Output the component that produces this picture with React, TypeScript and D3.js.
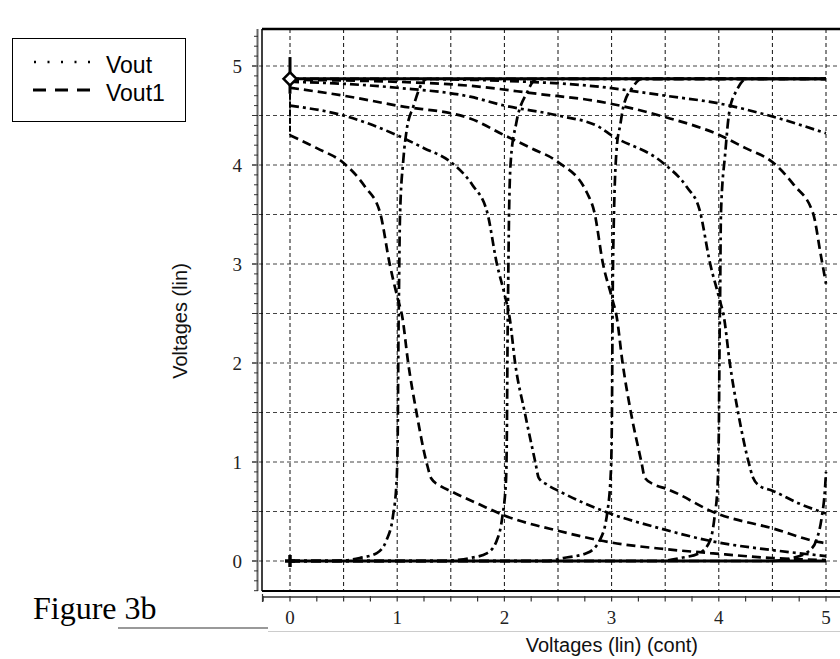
import React from "react";
import * as d3 from "d3";

type Pt = [number, number];

// tick labels / text
const xTickLabels = [0, 1, 2, 3, 4, 5];
const yTickLabels = [0, 1, 2, 3, 4, 5];
const gridValues = [0, 0.5, 1, 1.5, 2, 2.5, 3, 3.5, 4, 4.5, 5];
const legendNames = ["Vout", "Vout1"];
const xTitle = "Voltages (lin) (cont)";
const yTitle = "Voltages (lin)";
const figureTitle = "Figure 3b";

// rising transfer curves (one per sweep step)
const voutCurves: Pt[][] = [
  [[0, 0], [0.4, 0], [0.55, 0.01], [0.65, 0.03], [0.81, 0.08], [0.9, 0.21], [0.96, 0.45], [0.995, 0.82], [1.005, 1.29], [1.012, 2.3], [1.016, 2.67], [1.026, 3.48], [1.057, 4.05], [1.088, 4.35], [1.15, 4.59], [1.24, 4.84], [1.28, 4.87], [5, 4.87]],
  [[0, 0], [1.45, 0], [1.55, 0.01], [1.68, 0.03], [1.84, 0.08], [1.93, 0.21], [1.98, 0.44], [2.015, 0.82], [2.023, 1.29], [2.03, 2.3], [2.034, 2.67], [2.043, 3.48], [2.06, 4.05], [2.11, 4.42], [2.21, 4.73], [2.3, 4.87], [5, 4.87]],
  [[0, 0], [2.4, 0], [2.55, 0.03], [2.77, 0.08], [2.89, 0.21], [2.96, 0.49], [2.995, 0.95], [3.004, 1.6], [3.01, 2.64], [3.02, 3.4], [3.05, 4.2], [3.08, 4.4], [3.11, 4.59], [3.2, 4.79], [3.28, 4.87], [5, 4.87]],
  [[0, 0], [3.45, 0], [3.64, 0.03], [3.82, 0.08], [3.92, 0.21], [3.96, 0.44], [3.99, 0.79], [4.0, 1.3], [4.008, 2.3], [4.012, 2.64], [4.02, 3.51], [4.06, 4.12], [4.1, 4.55], [4.17, 4.76], [4.26, 4.87], [5, 4.87]],
  [[0, 0], [4.5, 0], [4.69, 0.03], [4.85, 0.11], [4.91, 0.21], [4.96, 0.44], [4.99, 0.72], [5.0, 0.9]],
];

// falling curves
const vout1Curves: Pt[][] = [
  [[0, 4.3], [0.25, 4.17], [0.5, 4.02], [0.7, 3.78], [0.84, 3.52], [0.93, 3.0], [1.0, 2.67], [1.05, 2.45], [1.1, 2.02], [1.18, 1.5], [1.275, 0.99], [1.32, 0.83], [1.4, 0.76], [1.51, 0.7], [1.77, 0.57], [2.0, 0.46], [2.52, 0.3], [2.98, 0.19], [3.5, 0.12], [3.92, 0.08], [4.5, 0.03], [5.0, 0.01]],
  [[0, 4.6], [0.5, 4.5], [1.0, 4.3], [1.25, 4.17], [1.5, 4.03], [1.7, 3.8], [1.84, 3.52], [1.93, 3.0], [2.0, 2.7], [2.05, 2.45], [2.1, 2.0], [2.19, 1.5], [2.29, 0.99], [2.32, 0.84], [2.4, 0.77], [2.52, 0.7], [2.96, 0.49], [3.45, 0.33], [3.98, 0.19], [4.5, 0.11], [5.0, 0.05]],
  [[0, 4.78], [0.5, 4.7], [1.0, 4.6], [1.68, 4.47], [2.0, 4.3], [2.25, 4.17], [2.5, 4.03], [2.77, 3.72], [2.84, 3.52], [2.92, 3.0], [3.0, 2.67], [3.05, 2.45], [3.1, 2.02], [3.18, 1.5], [3.28, 0.99], [3.31, 0.84], [3.4, 0.77], [3.51, 0.73], [3.98, 0.48], [4.5, 0.33], [4.94, 0.19], [5.0, 0.18]],
  [[0, 4.84], [0.5, 4.82], [1.0, 4.78], [1.68, 4.69], [2.0, 4.6], [2.5, 4.5], [2.89, 4.38], [3.0, 4.3], [3.48, 4.02], [3.7, 3.78], [3.82, 3.55], [3.92, 3.0], [4.0, 2.67], [4.05, 2.45], [4.1, 2.02], [4.18, 1.5], [4.28, 0.99], [4.32, 0.84], [4.38, 0.76], [4.5, 0.71], [4.75, 0.58], [5.0, 0.48]],
  [[0, 4.86], [1.0, 4.84], [1.68, 4.8], [2.3, 4.72], [2.89, 4.64], [3.48, 4.49], [4.01, 4.3], [4.25, 4.17], [4.5, 4.03], [4.7, 3.8], [4.88, 3.51], [4.95, 3.1], [5.0, 2.8]],
  [[0, 4.87], [1.0, 4.87], [2.0, 4.85], [2.89, 4.79], [3.5, 4.7], [4.01, 4.62], [4.5, 4.49], [5.0, 4.32]],
];

// rails where many curves overlap, and marker positions
const railHigh: Pt[] = [[0, 4.87], [5, 4.87]];
const railLow: Pt[] = [[0, 0], [5, 0]];
const diamondAt: Pt = [0, 4.87];
const crossAt: Pt = [0, 0];
const startSpan = [4.3, 4.72, 5.09];

const W = 840, H = 659;
const left = 262, top = 29, bottom = 591, right = 840;

export default function App() {
  const x = d3.scaleLinear().domain([0, 5]).range([290, 826]);
  const y = d3.scaleLinear().domain([0, 5]).range([561, 66]);
  const line = d3.line<Pt>().x(d => x(d[0])).y(d => y(d[1])).curve(d3.curveMonotoneX);
  const straight = d3.line<Pt>().x(d => x(d[0])).y(d => y(d[1]));

  const yMinor = d3.range(-3, 54).map(i => i / 10).filter(v => y(v) >= top && y(v) <= bottom);
  const xMinor = d3.range(-1, 21).map(i => i / 4).filter(v => x(v) >= left && x(v) <= right);

  const serif = "'Liberation Serif', 'Times New Roman', serif";
  const sans = "'Liberation Sans', Arial, sans-serif";

  const dx = x(diamondAt[0]), dy = y(diamondAt[1]);
  const cx = x(crossAt[0]), cy = y(crossAt[1]);

  return (
    <div style={{ position: "absolute", left: 0, top: 0 }}>
      <svg width={W} height={H} style={{ display: "block", background: "#fff" }}>
        <defs>
          <clipPath id="plotClip">
            <rect x={left} y={top} width={right - left} height={bottom - top} />
          </clipPath>
        </defs>

        {/* grid */}
        <g stroke="#444" strokeWidth={1} strokeDasharray="4,3">
          {gridValues.map(v => (
            <line key={"gy" + v} x1={252} x2={right} y1={y(v)} y2={y(v)} />
          ))}
          {gridValues.map(v => (
            <line key={"gx" + v} x1={x(v)} x2={x(v)} y1={top} y2={bottom} stroke="#111" />
          ))}
        </g>

        {/* frame */}
        <line x1={left} x2={right} y1={top} y2={top} stroke="#000" strokeWidth={2.5} />
        <line x1={left} x2={left} y1={top} y2={bottom} stroke="#000" strokeWidth={1.5} />
        <line x1={left} x2={right} y1={bottom} y2={bottom} stroke="#000" strokeWidth={2} />

        {/* y axis */}
        <line x1={257.5} x2={257.5} y1={top} y2={bottom} stroke="#666" strokeWidth={2} />
        {yMinor.map(v => (
          <line key={"yt" + v} x1={Math.abs(v * 2 - Math.round(v * 2)) < 1e-6 ? 252 : 254} x2={258} y1={y(v)} y2={y(v)} stroke="#333" strokeWidth={1} />
        ))}
        {yTickLabels.map(v => (
          <text key={"yl" + v} x={242} y={y(v) + 6.5} textAnchor="end" fontFamily={serif} fontSize={19} fill="#222">{v}</text>
        ))}

        {/* x axis */}
        <line x1={left} x2={right} y1={597} y2={597} stroke="#333" strokeWidth={1.5} />
        {xMinor.map(v => (
          <line key={"xt" + v} x1={x(v)} x2={x(v)} y1={596} y2={601.5} stroke="#333" strokeWidth={1.2} />
        ))}
        <line x1={left + 0.5} x2={left + 0.5} y1={594} y2={602} stroke="#333" strokeWidth={1.2} />
        {xTickLabels.map(v => (
          <text key={"xl" + v} x={x(v)} y={624} textAnchor="middle" fontFamily={serif} fontSize={19} fill="#222">{v}</text>
        ))}

        {/* curves */}
        <g clipPath="url(#plotClip)" fill="none" stroke="#000">
          <path d={straight(railHigh) || ""} strokeWidth={3} />
          <path d={straight(railLow) || ""} strokeWidth={3} />
          {vout1Curves.map((c, i) => (
            <path key={"f" + i} d={line(c) || ""} strokeWidth={2.7} strokeDasharray={i % 2 === 0 ? "9,5" : "9,4,3,4"} />
          ))}
          {voutCurves.map((c, i) => (
            <path key={"r" + i} d={line(c) || ""} strokeWidth={2.7} strokeDasharray="10,4,3,4" />
          ))}
          {/* start markers */}
          <line x1={dx} x2={dx} y1={y(startSpan[2])} y2={y(startSpan[1])} strokeWidth={3} />
          <line x1={dx} x2={dx} y1={y(startSpan[1])} y2={y(startSpan[0])} strokeWidth={2} strokeDasharray="6,2" />
          <path d={`M${dx - 6.5},${dy}L${dx},${dy - 6.5}L${dx + 6.5},${dy}L${dx},${dy + 6.5}Z`} fill="#fff" strokeWidth={2.5} />
          <line x1={cx} x2={cx} y1={cy - 6} y2={cy + 6} strokeWidth={3.5} />
          <line x1={cx - 5} x2={cx + 5} y1={cy} y2={cy} strokeWidth={3.5} />
        </g>

        {/* axis titles */}
        <text x={698} y={652} textAnchor="end" fontFamily={sans} fontSize={20} fill="#111">{xTitle}</text>
        <text transform={`translate(187,321) rotate(-90)`} textAnchor="middle" fontFamily={sans} fontSize={20} fill="#111">{yTitle}</text>

        {/* legend */}
        <rect x={12.5} y={38.5} width={173} height={83} fill="#fff" stroke="#000" strokeWidth={1} />
        <line x1={34} x2={90} y1={62} y2={62} stroke="#000" strokeWidth={2.5} strokeDasharray="2,11.5" />
        <line x1={33} x2={91} y1={90} y2={90} stroke="#000" strokeWidth={3} strokeDasharray="13,9" />
        <text x={106} y={73} fontFamily={sans} fontSize={23} fill="#000">{legendNames[0]}</text>
        <text x={106} y={101} fontFamily={sans} fontSize={23} fill="#000">{legendNames[1]}</text>

        {/* figure caption */}
        <text x={33} y={619} fontFamily={serif} fontSize={32} fill="#000">{figureTitle}</text>
        <line x1={118} x2={268} y1={628} y2={628} stroke="#999" strokeWidth={2} />
        <line x1={268} x2={W} y1={631.5} y2={631.5} stroke="#ccc" strokeWidth={1} />
      </svg>
    </div>
  );
}
